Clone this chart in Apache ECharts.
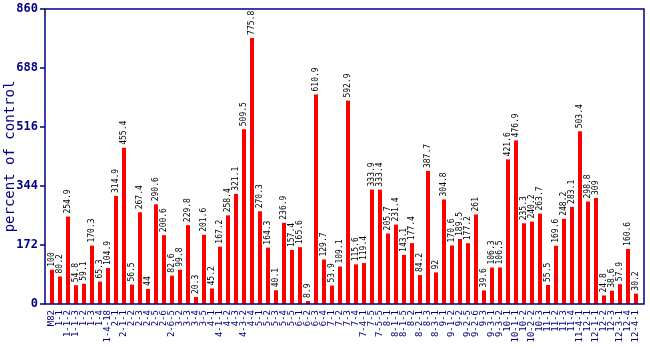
<!DOCTYPE html>
<html><head><meta charset="utf-8">
<script src="https://cdn.jsdelivr.net/npm/echarts@6/dist/echarts.min.js"></script>
<style>html,body{margin:0;padding:0;background:#fff}#c{width:650px;height:350px}</style>
</head><body><div id="c"></div>
<script>
var categories = ["M82","1-1","1-1-2","1-1-3","1-2","1-3","1-4","1-4-18","2-1","2-1-1","2-2","2-3","2-4","2-5","2-6","2-6-5","3-2","3-3","3-4","3-5","4-1","4-1-1","4-2","4-3","4-3-2","4-4","5-1","5-2","5-3","5-4","5-5","6-1","6-2","6-3","6-4","7-1","7-2","7-3","7-4","7-4-1","7-5","7-5-5","8-1","8-1-1","8-1-5","8-2","8-2-1","8-3","8-3-1","9-1","9-1-2","9-2","9-2-5","9-2-6","9-3","9-3-1","9-3-2","10-1","10-1-1","10-2","10-2-2","10-3","11-1","11-2","11-3","11-4","11-4-1","12-1","12-1-1","12-2","12-3","12-3-1","12-4","12-4-1"];
var values = [100,80.2,254.9,54.8,59.1,170.3,65.3,104.9,314.9,455.4,56.5,267.4,44,290.6,200.6,82.6,99.8,229.8,20.3,201.6,45.2,167.2,258.4,321.1,509.5,775.8,270.3,164.3,40.1,236.9,157.4,165.6,8.9,610.9,129.7,53.9,109.1,592.9,115.6,119.4,333.9,333.4,205.7,231.4,143.1,177.4,84.2,387.7,92,304.8,170.6,189.5,177.2,261,39.6,106.3,106.5,421.6,476.9,235.3,240.2,263.7,55.5,169.6,248.2,283.1,503.4,298.8,309,24.8,38.6,57.9,160.6,30.2];
var yTicks = [0,172,344,516,688,860];
var navy = '#000080';
var chart = echarts.init(document.getElementById('c'), null, {renderer:'canvas'});
chart.setOption({
  animation:false,
  grid:{left:48, right:10, top:9, bottom:46, containLabel:false, outerBoundsMode:'none'},
  graphic:[{type:'rect', shape:{x:45,y:9,width:599,height:295}, style:{fill:'none', stroke:navy, lineWidth:1.5}, z:10}],
  xAxis:{type:'category', data:categories, boundaryGap:true,
    axisLine:{show:false}, axisTick:{show:false},
    axisLabel:{interval:0, rotate:90, color:navy, fontFamily:'DejaVu Sans Mono', fontSize:9, margin:6}},
  yAxis:{type:'value', min:yTicks[0], max:yTicks[yTicks.length-1], interval:172, offset:3,
    axisLine:{show:false}, axisTick:{show:true, length:5, lineStyle:{color:navy, width:1.5}},
    splitLine:{show:false},
    axisLabel:{color:navy, fontFamily:'DejaVu Sans Mono', fontWeight:'bold', fontSize:12, margin:7},
    name:'percent of control', nameLocation:'middle', nameGap:28, nameMoveOverlap:false,
    nameTextStyle:{color:navy, fontFamily:'DejaVu Sans Mono', fontSize:14}},
  series:[{type:'bar', data:values, barWidth:4, itemStyle:{color:'#ff0000'},
    label:{show:true, position:'top', rotate:90, align:'left', verticalAlign:'middle', distance:3,
      color:'#000', fontFamily:'DejaVu Sans Mono', fontSize:8}}]
});
</script></body></html>
